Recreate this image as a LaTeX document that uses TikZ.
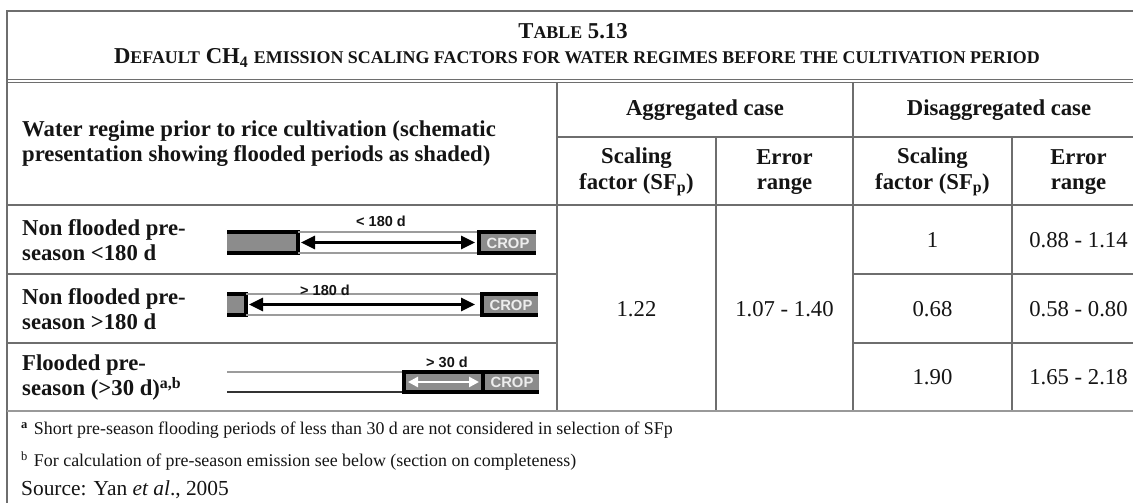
\documentclass[tikz,border=0pt]{standalone}
\usepackage{fontspec}
\setmainfont{Liberation Serif}
\newfontfamily\labelfont{Liberation Sans}
\usetikzlibrary{arrows.meta}

\definecolor{rulegray}{HTML}{6E6E6E}
\definecolor{barfill}{HTML}{8C8C8C}
\definecolor{thingray}{HTML}{9C9C9C}
\definecolor{cropwhite}{HTML}{EDEDED}
\definecolor{inkblack}{HTML}{141414}

\newcommand{\bodysize}{\fontsize{22.7}{25.5}\selectfont}
\newcommand{\notesize}{\fontsize{17.9}{20}\selectfont}
\newcommand{\sourcesize}{\fontsize{21.4}{24}\selectfont}
\newcommand{\capsm}[1]{{\fontsize{17.9}{20}\selectfont #1}}
\newcommand{\subp}{\textsubscript{p}}

\begin{document}
\begin{tikzpicture}[x=1pt,y=-1pt,
  rule/.style={draw=rulegray, line width=1.5pt},
  heavy/.style={draw=black, line width=3.5pt, line join=miter},
  thinrule/.style={draw=thingray, line width=1.4pt},
  thindark/.style={draw=black!80, line width=1.4pt},
  headtext/.style={inner sep=0pt, text=inkblack, font=\bodysize\bfseries},
  celltext/.style={inner sep=0pt, text=inkblack, font=\bodysize},
  notetext/.style={inner sep=0pt, text=inkblack, font=\notesize, anchor=west},
  daylabel/.style={inner sep=0pt, text=inkblack, font=\labelfont\bfseries\fontsize{14.5}{16}\selectfont},
  croplabel/.style={inner sep=0pt, text=cropwhite, font=\labelfont\bfseries\fontsize{14.8}{16}\selectfont},
  bigarrow/.style={draw=black, line width=3pt,
    {Triangle[length=14pt,width=13pt]}-{Triangle[length=14pt,width=13pt]}},
  whitearrow/.style={draw=white, line width=2.6pt,
    {Triangle[length=10pt,width=10pt]}-{Triangle[length=10pt,width=10pt]}}
]
\useasboundingbox (0,0) rectangle (1133,503);

% ---- table rules ----
\draw[rule] (7,11) -- (1133,11);
\draw[rule] (7,10.25) -- (7,503);
\draw[draw=rulegray, line width=1.2pt] (7,79.2) -- (1133,79.2);
\draw[draw=rulegray, line width=1.2pt] (7,82.2) -- (1133,82.2);
\draw[rule] (557,82) -- (557,411);
\draw[rule] (853,82) -- (853,411);
\draw[rule] (557,137) -- (1133,137);
\draw[rule] (716,137) -- (716,411);
\draw[rule] (1012,137) -- (1012,411);
\draw[rule] (7,205) -- (1133,205);
\draw[rule] (7,274) -- (557,274);
\draw[rule] (853,274) -- (1133,274);
\draw[rule] (7,343) -- (557,343);
\draw[rule] (853,343) -- (1133,343);
\draw[draw=rulegray!70, line width=2.2pt] (7,411) -- (1133,411);

% ---- title ----
\node[headtext] (tabnum) at (573,31) {T\capsm{ABLE} 5.13};
\node[headtext] (tabtitle) at (577,58) {D\capsm{EFAULT} CH\textsubscript{4} \capsm{EMISSION SCALING FACTORS FOR WATER REGIMES BEFORE THE CULTIVATION PERIOD}};

% ---- column headings ----
\node[headtext, anchor=west, align=left] (hregime) at (22,143.5)
  {Water regime prior to rice cultivation (schematic\\presentation showing flooded periods as shaded)};
\node[headtext] (hagg) at (705,110) {Aggregated case};
\node[headtext] (hdis) at (999,110) {Disaggregated case};
\node[headtext, align=center] (hasf) at (636.5,172) {Scaling\\factor (SF\subp)};
\node[headtext, align=center] (haer) at (784.5,172) {Error\\range};
\node[headtext, align=center] (hdsf) at (932.5,172) {Scaling\\factor (SF\subp)};
\node[headtext, align=center] (hder) at (1078.5,172) {Error\\range};

% ---- row labels ----
\node[headtext, anchor=west, align=left] (row1) at (22,240) {Non flooded pre-\\season <180 d};
\node[headtext, anchor=west, align=left] (row2) at (22,309) {Non flooded pre-\\season >180 d};
\node[headtext, anchor=west, align=left] (row3) at (22,377.5) {Flooded pre-\\season (>30 d)\textsuperscript{a,b}};

% ---- values ----
\node[celltext] (aggsf) at (636.5,309) {1.22};
\node[celltext] (agger) at (784.5,309) {1.07 - 1.40};
\node[celltext] (dsf1) at (932.5,240.5) {1};
\node[celltext] (der1) at (1078.5,240.5) {0.88 - 1.14};
\node[celltext] (dsf2) at (932.5,309.5) {0.68};
\node[celltext] (der2) at (1078.5,309.5) {0.58 - 0.80};
\node[celltext] (dsf3) at (932.5,377.5) {1.90};
\node[celltext] (der3) at (1078.5,377.5) {1.65 - 2.18};

% ---- schematic: non flooded < 180 d ----
\fill[barfill] (227,232) rectangle (298,253);
\draw[heavy] (227,232) -- (298,232) -- (298,253) -- (227,253);
\draw[thinrule] (298,232) -- (479,232);
\draw[thinrule] (298,253) -- (479,253);
\fill[barfill] (479,232) rectangle (536,253);
\draw[heavy] (536,232) -- (479,232) -- (479,253) -- (536,253);
\node[croplabel] (crop1) at (508,243) {CROP};
\coordinate (s1) at (301,242.5);
\coordinate (e1) at (475,242.5);
\draw[bigarrow] (s1) -- (e1);
\node[daylabel] (lab1) at (381,221) {< 180 d};

% ---- schematic: non flooded > 180 d ----
\fill[barfill] (227,294) rectangle (246,315);
\draw[heavy] (227,294) -- (246,294) -- (246,315) -- (227,315);
\draw[thinrule] (246,294) -- (482,294);
\draw[thinrule] (246,315) -- (482,315);
\fill[barfill] (482,294) rectangle (538,315);
\draw[heavy] (538,294) -- (482,294) -- (482,315) -- (538,315);
\node[croplabel] (crop2) at (511,305) {CROP};
\coordinate (s2) at (249,304.5);
\coordinate (e2) at (475,304.5);
\draw[bigarrow] (s2) -- (e2);
\node[daylabel] (lab2) at (325,290) {> 180 d};

% ---- schematic: flooded > 30 d ----
\draw[thinrule] (227,372) -- (404,372);
\draw[thindark] (227,392) -- (404,392);
\fill[barfill] (404,372) rectangle (539,392);
\draw[heavy] (539,372) -- (404,372) -- (404,392) -- (539,392);
\draw[heavy] (483,372) -- (483,392);
\node[croplabel] (crop3) at (512,382.5) {CROP};
\coordinate (s3) at (408,382);
\coordinate (e3) at (479,382);
\draw[whitearrow] (s3) -- (e3);
\node[daylabel] (lab3) at (447,362) {> 30 d};

% ---- notes ----
\node[notetext] (nota) at (21,430) {\textsuperscript{\bfseries a}\hspace{6pt}Short pre-season flooding periods of less than 30 d are not considered in selection of SFp};
\node[notetext] (notb) at (21,461) {\textsuperscript{b}\hspace{6pt}For calculation of pre-season emission see below (section on completeness)};
\node[notetext, font=\sourcesize] (src) at (21,490) {Source: Yan \textit{et al}., 2005};
\end{tikzpicture}
\end{document}
